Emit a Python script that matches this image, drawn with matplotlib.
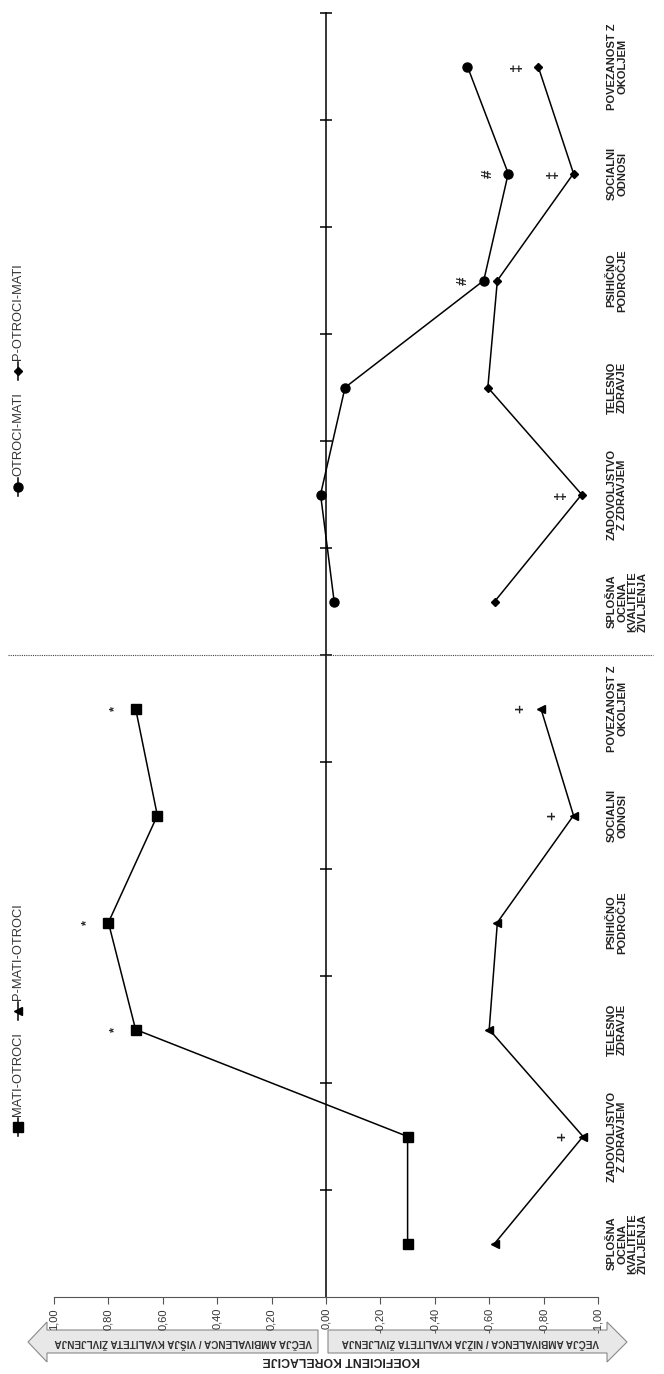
import matplotlib.pyplot as plt
from matplotlib.patches import Polygon

plt.rcParams['font.family'] = ['Liberation Sans', 'DejaVu Sans']

# categories (same for both panels)
categories = ["SPLOŠNA\nOCENA\nKVALITETE\nŽIVLJENJA", "ZADOVOLJSTVO\nZ ZDRAVJEM",
              "TELESNO\nZDRAVJE", "PSIHIČNO\nPODROČJE", "SOCIALNI\nODNOSI",
              "POVEZANOST Z\nOKOLJEM"]

# left panel of original chart (bottom half here)
mati_otroci = [-0.30, -0.30, 0.70, 0.80, 0.62, 0.70]
p_mati_otroci = [-0.62, -0.945, -0.60, -0.63, -0.91, -0.79]
mati_otroci_sig = ["", "", "*", "*", "", "*"]
p_mati_otroci_sig = ["", "+", "", "", "+", "+"]

# right panel (top half here)
otroci_mati = [-0.03, 0.02, -0.07, -0.58, -0.67, -0.52]
p_otroci_mati = [-0.62, -0.94, -0.595, -0.63, -0.91, -0.78]
otroci_mati_sig = ["", "", "", "#", "#", ""]
p_otroci_mati_sig = ["", "\u2021", "", "", "\u2021", "\u2021"]

ticks = [1.0, 0.8, 0.6, 0.4, 0.2, 0.0, -0.2, -0.4, -0.6, -0.8, -1.0]

W, H = 664, 1374
fig = plt.figure(figsize=(W / 100, H / 100), dpi=100)

# chart is drawn turned by 90 degrees: correlation runs horizontally
ax = fig.add_axes([54 / W, 77 / H, 544 / W, 1284 / H])
ax.set_xlim(1, -1)
ax.set_ylim(0, 12)
for s in ['top', 'left', 'right']:
    ax.spines[s].set_visible(False)
ax.spines['bottom'].set_color('#555555')
ax.set_xticks(ticks)
ax.set_xticklabels([f"{t:.2f}".replace('.', ',') for t in ticks],
                   rotation=90, fontsize=8, color='#333333')
ax.tick_params(axis='x', length=5, color='#555555', pad=3)
ax.set_yticks([])

n = len(categories)
pos_bottom = [i + 0.5 for i in range(n)]
pos_top = [n + i + 0.5 for i in range(n)]

# zero line with category ticks
ax.plot([0, 0], [0, 2 * n], color='black', lw=1.1, clip_on=False)
ax.plot([0] * (2 * n), list(range(1, 2 * n + 1)), ls='none', marker='_',
        ms=9, mew=1.1, color='black', clip_on=False)

# dotted separator between panels
ax.plot([-0.085, 1.101], [n, n], transform=ax.get_yaxis_transform(),
        color='#444444', lw=0.8, ls=(0, (1, 1)), clip_on=False)

series = [
    (mati_otroci, pos_bottom, 's', 6.5, mati_otroci_sig),
    (p_mati_otroci, pos_bottom, '<', 6, p_mati_otroci_sig),
    (otroci_mati, pos_top, 'o', 6.5, otroci_mati_sig),
    (p_otroci_mati, pos_top, 'D', 4, p_otroci_mati_sig),
]
for vals, pos, mk, ms, sig in series:
    ax.plot(vals, pos, color='black', lw=1.1, marker=mk, ms=ms, clip_on=False)
    for v, p, s in zip(vals, pos, sig):
        if s:
            size = 9 if s == '*' else 11
            ax.annotate(s, (v, p), xytext=(-15, 0), textcoords='offset points',
                        rotation=90, ha='center', va='center', fontsize=size,
                        fontweight='bold', color='#222222')

# category labels
ytr = ax.get_yaxis_transform()
for i, c in enumerate(categories + categories):
    ax.text(1.016, i + 0.5, c, transform=ytr, rotation=90, rotation_mode='anchor',
            ha='center', va='top', multialignment='center', fontsize=8,
            fontweight='bold', linespacing=1.05, color='#222222')

# overlay in pixel coordinates for decorations
deco = fig.add_axes([0, 0, 1, 1], zorder=-1)
deco.set_xlim(0, W)
deco.set_ylim(H, 0)
deco.axis('off')

arrow_l = [(28, 1342), (47, 1322), (47, 1330), (318, 1330), (318, 1353), (47, 1353), (47, 1362)]
arrow_r = [(328, 1330), (607, 1330), (607, 1322), (627, 1342), (607, 1362), (607, 1353), (328, 1353)]
for pts in (arrow_l, arrow_r):
    deco.add_patch(Polygon(pts, closed=True, fc='#e8e8e8', ec='#8a8a8a', lw=0.8))
deco.text(183, 1342, "VEČJA AMBIVALENCA / VIŠJA KVALITETA ŽIVLJENJA", rotation=180,
          ha='center', va='center', fontsize=7.2, fontweight='bold', color='#333333')
deco.text(470, 1342, "VEČJA AMBIVALENCA / NIŽJA KVALITETA ŽIVLJENJA", rotation=180,
          ha='center', va='center', fontsize=7.2, fontweight='bold', color='#333333')
deco.text(341, 1360, "KOEFICIENT KORELACIJE", rotation=180, ha='center', va='center',
          fontsize=8.8, fontweight='bold', color='#222222')


# legends, turned like the chart
def legend(y0, entries):
    y = y0
    for mk, ms, label in entries:
        deco.plot([18, 18], [y, y - 18], color='black', lw=1.1)
        deco.plot([18], [y - 9], marker=mk, ms=ms, color='black')
        t = deco.text(18, y - 20, label, rotation=90, rotation_mode='anchor',
                      ha='left', va='center', fontsize=9.3, color='#333333')
        fig.canvas.draw()
        bb = t.get_window_extent()
        y = y - 20 - bb.height - 12


legend(1136, [('s', 6.5, "MATI-OTROCI"), ('<', 6, "P-MATI-OTROCI")])
legend(496, [('o', 6.5, "OTROCI-MATI"), ('D', 4, "P-OTROCI-MATI")])

fig.savefig("out.png", dpi=100)
